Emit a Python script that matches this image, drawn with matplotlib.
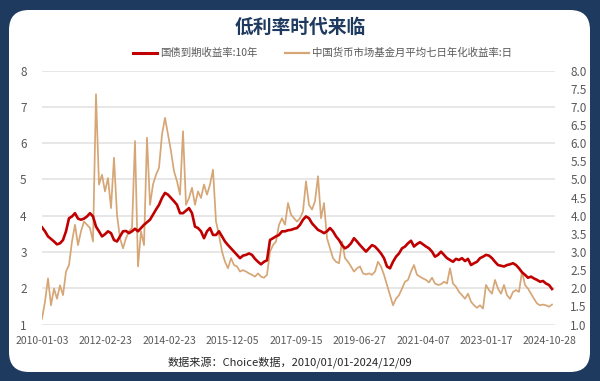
import matplotlib
matplotlib.use("Agg")
import matplotlib.pyplot as plt
from matplotlib.patches import FancyBboxPatch
from matplotlib.lines import Line2D
import numpy as np

plt.rcParams['font.family'] = ['Noto Sans CJK SC', 'DejaVu Sans']

# ---------------- data ----------------
title = "低利率时代来临"
series_names = ["国债到期收益率:10年", "中国货币市场基金月平均七日年化收益率:日"]
source_text = "数据来源：Choice数据，2010/01/01-2024/12/09"
tick_labels = ["2010-01-03", "2012-02-23", "2014-02-23", "2015-12-05", "2017-09-15",
               "2019-06-27", "2021-04-07", "2023-01-17", "2024-10-28"]

# 10Y government bond yield (sampled)
bond_10y = [3.68, 3.57, 3.43, 3.36, 3.29, 3.21, 3.24, 3.33, 3.57, 3.93,
            3.98, 4.07, 3.92, 3.89, 3.92, 3.98, 4.07, 3.98, 3.70, 3.57,
            3.43, 3.49, 3.57, 3.52, 3.33, 3.29, 3.43, 3.57, 3.58, 3.52,
            3.57, 3.64, 3.57, 3.66, 3.75, 3.82, 3.89, 4.03, 4.17, 4.30,
            4.49, 4.63, 4.58, 4.49, 4.40, 4.30, 4.07, 4.07, 4.14, 4.21,
            4.07, 3.70, 3.66, 3.57, 3.38, 3.57, 3.66, 3.47, 3.47, 3.57,
            3.43, 3.29, 3.19, 3.10, 3.01, 2.92, 2.83, 2.90, 2.92, 2.96,
            2.92, 2.81, 2.73, 2.66, 2.73, 2.77, 3.33, 3.38, 3.43, 3.47,
            3.57, 3.57, 3.60, 3.61, 3.64, 3.66, 3.75, 3.89, 3.98, 3.93,
            3.79, 3.70, 3.61, 3.57, 3.52, 3.57, 3.66, 3.57, 3.43, 3.33,
            3.19, 3.10, 3.15, 3.24, 3.38, 3.29, 3.19, 3.10, 3.01, 3.10,
            3.19, 3.15, 3.06, 2.96, 2.83, 2.60, 2.55, 2.73, 2.87, 2.96,
            3.10, 3.15, 3.24, 3.31, 3.15, 3.22, 3.27, 3.21, 3.15, 3.10,
            3.01, 2.87, 2.92, 3.01, 2.92, 2.83, 2.78, 2.73, 2.81, 2.78,
            2.83, 2.75, 2.81, 2.64, 2.69, 2.73, 2.83, 2.87, 2.92, 2.90,
            2.83, 2.73, 2.64, 2.62, 2.60, 2.64, 2.66, 2.69, 2.64, 2.55,
            2.44, 2.37, 2.29, 2.32, 2.27, 2.23, 2.18, 2.20, 2.13, 2.09,
            1.98]

# Money market fund 7-day annualized yield (sampled)
mmf_7d = [1.16, 1.63, 2.27, 1.53, 1.99, 1.71, 2.08, 1.81, 2.46, 2.64,
          3.29, 3.75, 3.19, 3.57, 3.84, 3.75, 3.66, 3.29, 7.35, 4.86,
          5.13, 4.67, 5.04, 4.21, 5.60, 4.03, 3.38, 3.10, 3.38, 3.57,
          3.66, 6.06, 2.60, 3.57, 3.19, 6.15, 4.30, 4.86, 5.13, 5.32,
          6.24, 6.70, 6.24, 5.78, 5.23, 4.95, 4.58, 6.33, 4.30, 4.49,
          4.77, 4.30, 4.67, 4.49, 4.86, 4.58, 4.86, 5.27, 3.84, 3.47,
          3.01, 2.73, 2.55, 2.83, 2.64, 2.60, 2.46, 2.50, 2.46, 2.41,
          2.37, 2.32, 2.41, 2.32, 2.29, 2.37, 3.01, 3.19, 3.29, 3.75,
          3.93, 3.75, 4.35, 4.03, 3.93, 3.84, 3.93, 4.12, 4.95, 4.30,
          4.17, 4.40, 5.09, 3.93, 4.35, 3.38, 3.10, 2.83, 2.73, 2.69,
          3.29, 2.83, 2.73, 2.60, 2.46, 2.55, 2.60, 2.41, 2.38, 2.41,
          2.37, 2.46, 2.73, 2.60, 2.37, 2.09, 1.81, 1.53, 1.71, 1.81,
          1.99, 2.18, 2.23, 2.46, 2.64, 2.37, 2.32, 2.27, 2.23, 2.16,
          2.29, 2.13, 2.09, 2.11, 2.18, 2.13, 2.55, 2.13, 2.04, 1.90,
          1.81, 1.71, 1.85, 1.63, 1.53, 1.46, 1.53, 1.44, 2.09, 1.95,
          1.85, 2.23, 1.99, 1.85, 2.09, 1.81, 1.71, 1.90, 1.95, 1.90,
          2.46, 2.09, 1.99, 1.85, 1.71, 1.58, 1.53, 1.55, 1.53, 1.49,
          1.55]

# ---------------- style ----------------
NAVY = '#1f3a5f'
RED = '#c00000'
GOLD = '#d6a676'
GRID = '#e3e3e3'
TICK = '#595959'

W, H = 600, 381
fig = plt.figure(figsize=(W / 100, H / 100), dpi=100)
fig.patch.set_facecolor(NAVY)

# background panel
bg = fig.add_axes([0, 0, 1, 1], zorder=0)
bg.set_xlim(0, W)
bg.set_ylim(H, 0)
bg.axis('off')
bg.add_patch(FancyBboxPatch((9, 10), 581, 362,
                            boxstyle="round,pad=0,rounding_size=20",
                            facecolor='white', edgecolor='none'))

# main axes
left, right = 42 / W, 555 / W
bottom, top = (H - 324.5) / H, (H - 70.7) / H
ax = fig.add_axes([left, bottom, right - left, top - bottom], zorder=2)
ax.set_facecolor('none')
ax2 = ax.twinx()

x = np.arange(len(bond_10y))
ax.plot(np.arange(len(mmf_7d)), mmf_7d, color=GOLD, lw=1.25, zorder=3)
ax.plot(x, bond_10y, color=RED, lw=1.9, zorder=4)

ax.set_ylim(1, 8)
ax2.set_ylim(1, 8)
ax.set_xlim(0, 171)
ax.set_yticks(np.arange(1, 9, 1))
ax.set_yticklabels([str(v) for v in range(1, 9)])
ax2.set_yticks(np.arange(1, 8.01, 0.5))
ax2.set_yticklabels([f"{v:.1f}" for v in np.arange(1, 8.01, 0.5)])
ax.set_xticks(np.linspace(0, 169.3, len(tick_labels)))
ax.set_xticklabels(tick_labels)

ax.grid(axis='y', color=GRID, lw=1.2)
ax.set_axisbelow(True)
for a in (ax, ax2):
    for s in a.spines.values():
        s.set_visible(False)
    a.tick_params(length=0, colors=TICK, labelsize=8.5)
ax.tick_params(axis='y', pad=11)
ax2.tick_params(axis='y', pad=11)
ax.tick_params(axis='x', pad=8, labelsize=7.5)

# title
fig.text(300 / W, 1 - 27 / H, title, ha='center', va='center',
         fontsize=13.5, fontweight='bold', color=NAVY)

# legend
handles = [Line2D([], [], color=RED, lw=2.2), Line2D([], [], color=GOLD, lw=1.6)]
fig.legend(handles, series_names, loc='center', bbox_to_anchor=(322.5 / W, 1 - 53 / H),
           ncol=2, frameon=False, handlelength=2.3, handletextpad=0.3,
           columnspacing=2.7, fontsize=7.5, labelcolor=TICK)

# source
fig.text(290 / W, 1 - 362 / H, source_text, ha='center', va='center',
         fontsize=8, color='#262626')

fig.savefig('out.png', dpi=100, facecolor=NAVY)
